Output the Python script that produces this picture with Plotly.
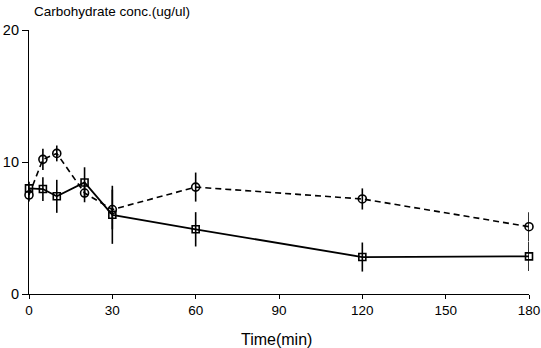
import plotly.graph_objects as go

time_min = [0, 5, 10, 20, 30, 60, 120, 180]
solid_vals = [8.0, 7.95, 7.4, 8.45, 6.0, 4.9, 2.8, 2.85]
solid_err = [0.5, 0.9, 1.25, 1.15, 2.2, 1.3, 1.1, 1.1]
dashed_vals = [7.5, 10.2, 10.65, 7.65, 6.4, 8.1, 7.2, 5.1]
dashed_err = [0.5, 0.8, 0.6, 0.7, 1.5, 1.1, 0.8, 1.1]
x_ticks = [0, 30, 60, 90, 120, 150, 180]
y_ticks = [0, 10, 20]

font_family = "Liberation Sans, Arial, sans-serif"

fig = go.Figure()
fig.add_trace(go.Scatter(
    x=time_min, y=dashed_vals, mode="lines+markers",
    line=dict(color="black", width=1.6, dash="6px,4px"),
    marker=dict(symbol="circle-open", size=8, color="black", line=dict(width=1.6)),
    error_y=dict(type="data", array=dashed_err, width=0, thickness=1.6, color="black"),
    cliponaxis=False, showlegend=False))
fig.add_trace(go.Scatter(
    x=time_min, y=solid_vals, mode="lines+markers",
    line=dict(color="black", width=1.8),
    marker=dict(symbol="square-open", size=7, color="black", line=dict(width=1.6)),
    error_y=dict(type="data", array=solid_err, width=0, thickness=1.6, color="black"),
    cliponaxis=False, showlegend=False))

fig.update_layout(
    width=541, height=348,
    margin=dict(l=29, r=12, t=30, b=54),
    paper_bgcolor="white", plot_bgcolor="white",
    font=dict(family=font_family, size=12, color="black"),
    xaxis=dict(range=[0, 180], tickvals=x_ticks, ticks="outside", ticklen=4,
               tickwidth=1.2, tickcolor="black", showline=True, linecolor="black",
               linewidth=1.2, showgrid=False, zeroline=False, automargin=False,
               ticklabeloverflow="allow",
               tickfont=dict(size=13.5, family=font_family, color="black")),
    yaxis=dict(range=[0, 20], tickvals=y_ticks, ticks="outside", ticklen=6,
               tickwidth=1.2, tickcolor="black", showline=True, linecolor="black",
               linewidth=1.2, showgrid=False, zeroline=False, automargin=False,
               tickfont=dict(size=14.5, family=font_family, color="black")),
    annotations=[
        dict(text="Carbohydrate conc.(ug/ul)", xref="paper", yref="paper",
             x=0, y=1, xanchor="left", yanchor="bottom", xshift=3, yshift=9,
             showarrow=False, font=dict(size=13.5, family=font_family, color="black")),
        dict(text="Time(min)", xref="x", yref="paper", x=89, y=0,
             xanchor="center", yanchor="middle", yshift=-45,
             showarrow=False, font=dict(size=16, family=font_family, color="black")),
    ],
)

fig.write_html(
    "out.html",
    config={"displayModeBar": False},
    post_script="document.body.style.margin='0';document.body.style.overflow='hidden';",
)
